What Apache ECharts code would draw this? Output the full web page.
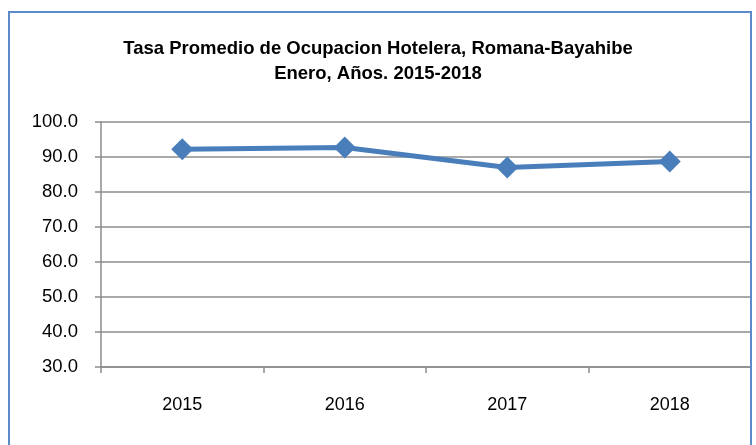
<!DOCTYPE html>
<html>
<head>
<meta charset="utf-8">
<script src="https://cdn.jsdelivr.net/npm/echarts@6/dist/echarts.min.js"></script>
<style>
  html, body { margin: 0; padding: 0; background: #fff; }
  #chart { width: 756px; height: 445px; }
</style>
</head>
<body>
<div id="chart"></div>
<script>
// data
const years = ['2015', '2016', '2017', '2018'];
const ocupacion = [92.2, 92.7, 87.0, 88.7];
const yTicks = { min: 30, max: 100, interval: 10 };

const myChart = echarts.init(document.getElementById('chart'));
const option = {
  backgroundColor: '#fff',
  animation: false,
  title: {
    text: 'Tasa Promedio de Ocupacion Hotelera, Romana-Bayahibe\nEnero, Años. 2015-2018',
    left: 'center',
    top: 31,
    textStyle: {
      fontFamily: 'Liberation Sans',
      fontWeight: 'bold',
      fontSize: 18.5,
      lineHeight: 25,
      color: '#000',
    },
  },
  grid: {
    left: 101,
    right: 5,
    top: 122,
    bottom: 78,
  },
  xAxis: {
    type: 'category',
    data: years,
    boundaryGap: true,
    axisLine: { lineStyle: { color: '#8c8c8c', width: 1.5 } },
    axisTick: { show: true, length: 6, lineStyle: { color: '#8c8c8c', width: 1.5 } },
    axisLabel: {
      margin: 29,
      color: '#000',
      fontFamily: 'Liberation Sans',
      fontSize: 18,
    },
  },
  yAxis: {
    type: 'value',
    min: yTicks.min,
    max: yTicks.max,
    interval: yTicks.interval,
    axisLine: { show: true, lineStyle: { color: '#8c8c8c', width: 1.5 } },
    axisTick: { show: true, length: 6, lineStyle: { color: '#8c8c8c', width: 1.5 } },
    splitLine: { show: true, lineStyle: { color: '#8c8c8c', width: 1.5 } },
    axisLabel: {
      margin: 23,
      color: '#000',
      fontFamily: 'Liberation Sans',
      fontSize: 18.5,
      formatter: (v) => v.toFixed(1),
    },
  },
  graphic: [
    {
      type: 'rect',
      z: 100,
      shape: { x: 9, y: 12, width: 742, height: 445 },
      style: { fill: 'none', stroke: '#5b8bc9', lineWidth: 2 },
    },
  ],
  series: [
    {
      name: 'Ocupacion',
      type: 'line',
      data: ocupacion,
      symbol: 'diamond',
      symbolSize: 22,
      lineStyle: { color: '#4a7ebb', width: 5 },
      itemStyle: { color: '#4a7ebb' },
    },
  ],
};
myChart.setOption(option);
</script>
</body>
</html>
